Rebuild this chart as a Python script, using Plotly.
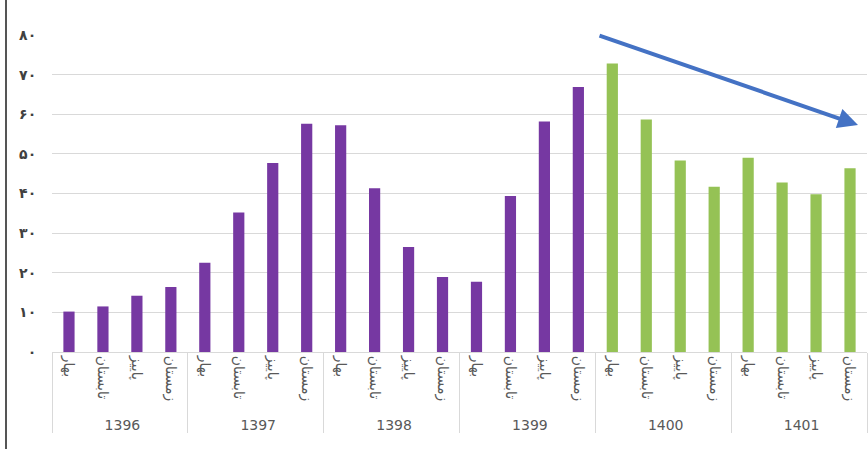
import plotly.graph_objects as go

years = ["1396", "1397", "1398", "1399", "1400", "1401"]
seasons = ["بهار", "تابستان", "پاییز", "زمستان"]
values = [
    10.2, 11.5, 14.2, 16.4,
    22.5, 35.2, 47.7, 57.6,
    57.2, 41.3, 26.5, 18.9,
    17.7, 39.4, 58.2, 66.9,
    72.8, 58.7, 48.3, 41.7,
    49.0, 42.8, 39.8, 46.4,
]
purple = "#7638A2"
green = "#95C255"
colors = [purple] * 16 + [green] * 8

ytick_vals = [0, 10, 20, 30, 40, 50, 60, 70, 80]
ytick_text = ["۰", "۱۰", "۲۰", "۳۰", "۴۰", "۵۰", "۶۰", "۷۰", "۸۰"]

xs_outer = [y for y in years for _ in seasons]
xs_inner = [s for _ in years for s in seasons]

fig = go.Figure(go.Bar(
    x=[xs_outer, xs_inner], y=values,
    marker=dict(color=colors, line=dict(width=0)),
))

fig.update_layout(
    width=868, height=449,
    margin=dict(l=52, r=1, t=35, b=97),
    paper_bgcolor="white", plot_bgcolor="white",
    bargap=0.67, showlegend=False,
    font=dict(family="DejaVu Sans", color="#595959"),
)
fig.update_xaxes(
    type="multicategory", tickangle=90,
    showline=True, linecolor="#D9D9D9", linewidth=1,
    showdividers=True, dividercolor="#D9D9D9", dividerwidth=1,
    tickfont=dict(size=14, color="#595959"),
    ticks="", showgrid=False,
)
fig.update_yaxes(
    range=[0, 80], tickvals=ytick_vals,
    ticktext=["<b>" + t + "</b>" for t in ytick_text],
    showgrid=True, gridcolor="#D9D9D9", gridwidth=1,
    zeroline=False, showline=False,
    ticks="outside", ticklen=12, tickcolor="rgba(0,0,0,0)",
    tickfont=dict(size=14, color="#404040", family="DejaVu Sans"),
)

# trend arrow
fig.add_annotation(
    xref="paper", yref="paper", x=(858 - 52) / 815, y=(352 - 125) / 317,
    ax=-260, ay=-90, showarrow=True, arrowhead=2, arrowsize=1,
    arrowwidth=4, arrowcolor="#4472C4", text="",
)
# left frame line
fig.add_shape(type="line", xref="paper", yref="paper",
              x0=(6 - 52) / 815, x1=(6 - 52) / 815, y0=-97 / 317, y1=(449 - 97) / 317,
              line=dict(color="#555555", width=2))

fig.write_html("out.html")
